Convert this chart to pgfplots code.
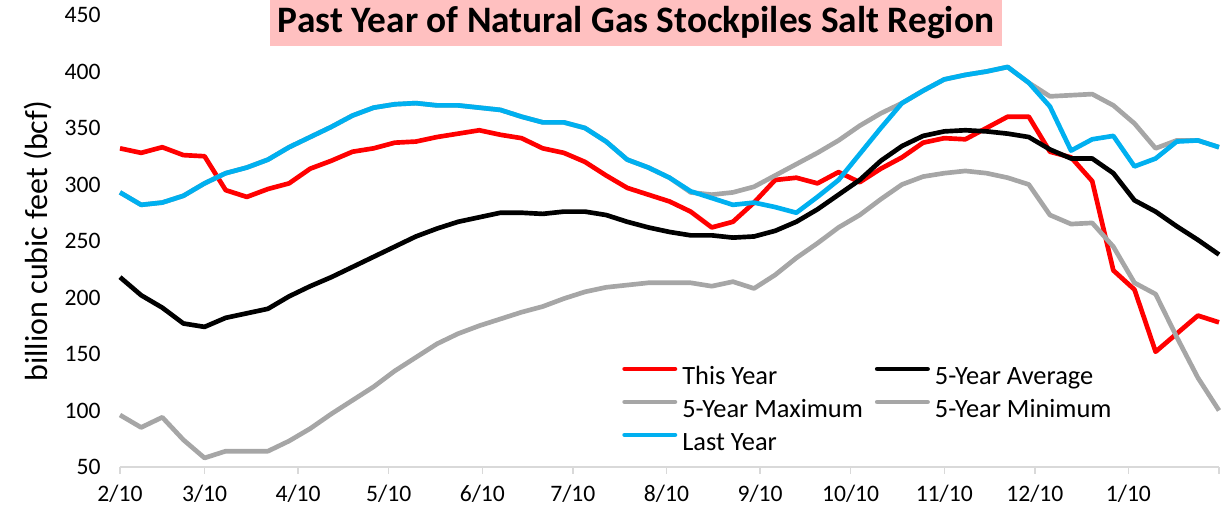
\documentclass[border=0pt]{standalone}
\usepackage{fontspec}
\setmainfont{Carlito}
\usepackage{pgfplots}
\usepackage{pgfplotstable}
\pgfplotsset{compat=1.18}
\definecolor{tyred}{HTML}{FF0000}
\definecolor{lygray}{HTML}{A6A6A6}
\definecolor{lyblue}{HTML}{00B0F0}
\definecolor{axgray}{HTML}{D9D9D9}
\definecolor{titlepink}{HTML}{FFC0C0}

\pgfplotstableread{
day this avg max min last
0 332 218 293 96 293
7 328 202 282 85 282
14 333 191 284 94 284
21 326 177 290 74 290
28 325 174 301 58 301
35 295 182 310 64 310
42 289 186 315 64 315
49 296 190 322 64 322
56 301 201 333 73 333
63 314 210 342 84 342
70 321 218 351 97 351
77 329 227 361 109 361
84 332 236 368 121 368
91 337 245 371 135 371
98 338 254 372 147 372
105 342 261 370 159 370
112 345 267 370 168 370
119 348 271 368 175 368
126 344 275 366 181 366
133 341 275 360 187 360
140 332 274 355 192 355
147 328 276 355 199 355
154 320 276 350 205 350
161 308 273 338 209 338
168 297 267 322 211 322
175 291 262 315 213 315
182 285 258 306 213 306
189 276 255 293 213 294
196 262 255 291 210 288
203 267 253 293 214 282
210 284 254 298 208 284
217 304 259 308 220 280
224 306 267 318 235 275
231 301 278 328 248 289
238 311 291 339 262 304
245 302 304 352 273 327
252 314 321 363 287 350
259 324 334 372 300 372
266 337 343 383 307 383
273 341 347 393 310 393
280 340 348 397 312 397
287 350 347 400 310 400
294 360 345 404 306 404
301 360 342 390 300 390
308 329 331 378 273 369
315 324 323 379 265 330
322 303 323 380 266 340
329 224 310 370 245 343
336 207 286 354 213 316
343 152 276 332 203 323
350 168 263 339 165 338
357 184 251 339 129 339
364 178 238 333 100 333
}\gasdata

\begin{document}
\begin{tikzpicture}
\path[use as bounding box] (-90pt,-31.5pt) rectangle (832.5pt,350.25pt);
\begin{axis}[
  at={(0pt,0pt)}, anchor=south west,
  scale only axis, width=824.25pt, height=339pt,
  xmin=0, xmax=364, ymin=50, ymax=450,
  clip=false,
  axis x line=bottom, axis y line=left,
  x axis line style={-, draw=axgray, line width=1pt},
  y axis line style={draw=none},
  xtick={0,28,59,89,120,150,181,212,242,273,303,334,364},
  xticklabels={2/10,3/10,4/10,5/10,6/10,7/10,8/10,9/10,10/10,11/10,12/10,1/10,{}},
  ytick={50,100,...,450},
  tick align=outside,
  major tick length=5pt,
  xtick style={draw=axgray, line width=1pt},
  ytick style={draw=none},
  ticklabel style={font=\fontsize{17.7}{20}\selectfont, text=black},
  /pgf/number format/assume math mode=true,
  yticklabel style={xshift=-6pt},
  xticklabel style={yshift=-5pt},
  ylabel={billion cubic feet (bcf)},
  ylabel style={at={(axis description cs:-0.0746,0.5)}, anchor=center, font=\fontsize{24}{28}\selectfont},
  legend columns=2,
  legend cell align=left,
  legend style={draw=none, fill=none, inner sep=0pt,
    at={(axis description cs:0.4568,0.2279)}, anchor=north west,
    font=\fontsize{19.8}{24}\selectfont,
    nodes={inner sep=0pt, text height=15pt, text depth=4pt},
    row sep=5.75pt,
    /tikz/every odd column/.append style={column sep=3.75pt},
    /tikz/every even column/.append style={column sep=9pt}},
  legend image code/.code={\draw[#1, line cap=round] (1.75pt,6pt) -- (39.5pt,6pt);},
  every axis plot/.append style={line width=3.5pt, line join=round, no markers},
]
\addplot[tyred] table[x=day,y=this] {\gasdata};
\addlegendentry{This Year}
\addplot[black] table[x=day,y=avg] {\gasdata};
\addlegendentry{5-Year Average}
\addplot[lygray] table[x=day,y=max] {\gasdata};
\addlegendentry{5-Year Maximum}
\addplot[lygray] table[x=day,y=min] {\gasdata};
\addlegendentry{5-Year Minimum}
\addplot[lyblue] table[x=day,y=last] {\gasdata};
\addlegendentry{Last Year}
\node[fill=titlepink, minimum width=549pt, minimum height=34.5pt, inner sep=0pt,
  font=\fontsize{28}{33}\selectfont\bfseries]
  at (axis description cs:0.4695,0.9823) {Past Year of Natural Gas Stockpiles Salt Region};
\end{axis}
\end{tikzpicture}
\end{document}
